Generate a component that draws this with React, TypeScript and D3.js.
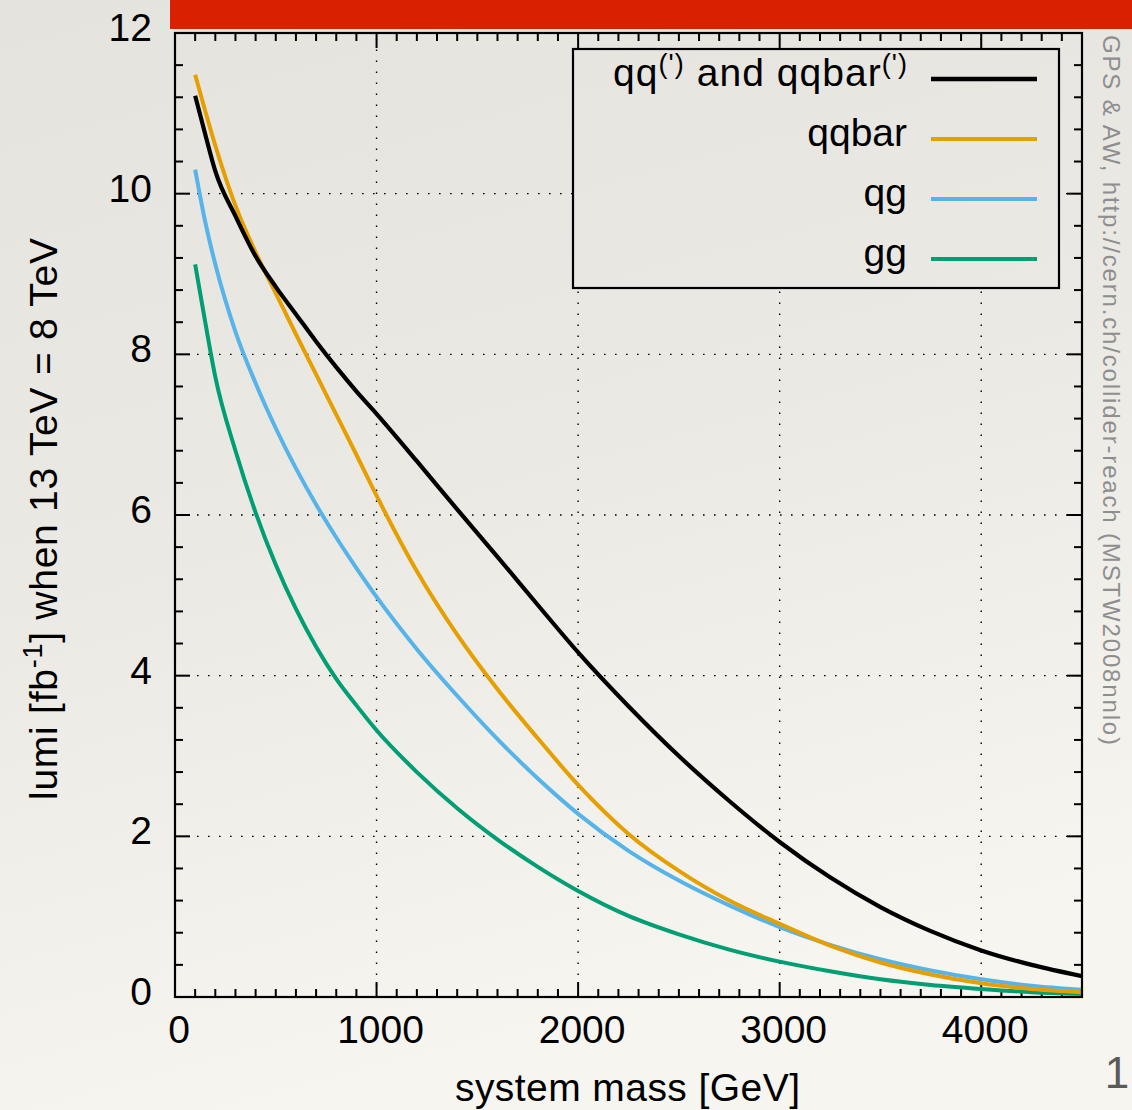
import React from "react";
import * as d3 from "d3";

// ---- data ----
const masses = [100, 150, 200, 300, 400, 500, 600, 700, 800, 900, 1000, 1200, 1400, 1600, 1800, 2000, 2250, 2500, 2750, 3000, 3250, 3500, 3750, 4000, 4250, 4500];
const qqAllValues = [11.22, 10.74, 10.28, 9.72, 9.22, 8.84, 8.5, 8.16, 7.84, 7.54, 7.26, 6.67, 6.07, 5.48, 4.88, 4.29, 3.62, 3.0, 2.44, 1.93, 1.49, 1.12, 0.82, 0.58, 0.4, 0.26];
const qqbarValues = [11.48, 11.03, 10.6, 9.85, 9.27, 8.76, 8.25, 7.75, 7.25, 6.75, 6.24, 5.3, 4.51, 3.83, 3.22, 2.64, 2.03, 1.57, 1.2, 0.91, 0.64, 0.43, 0.28, 0.17, 0.1, 0.06];
const qgValues = [10.3, 9.65, 9.12, 8.28, 7.64, 7.08, 6.58, 6.13, 5.72, 5.34, 4.98, 4.33, 3.75, 3.21, 2.72, 2.28, 1.82, 1.45, 1.14, 0.87, 0.65, 0.47, 0.33, 0.22, 0.14, 0.09];
const ggValues = [9.12, 8.4, 7.72, 6.8, 6.03, 5.38, 4.83, 4.36, 3.96, 3.63, 3.32, 2.8, 2.35, 1.96, 1.62, 1.32, 1.01, 0.78, 0.59, 0.44, 0.32, 0.22, 0.15, 0.1, 0.06, 0.04];

const seriesNames = ["qq(') and qqbar(')", "qqbar", "qg", "gg"];
const seriesColors = ["#000000", "#e69f00", "#56b4e9", "#009e73"];

const xTickValues = [0, 1000, 2000, 3000, 4000];
const yTickValues = [0, 2, 4, 6, 8, 10, 12];

const xTitle = "system mass [GeV]";
const sideNote = "GPS & AW, http://cern.ch/collider-reach (MSTW2008nnlo)";
const pageNumber = "1";

// ---- layout ----
const W = 1132;
const H = 1110;
const FONT = "'Liberation Sans', Arial, Helvetica, sans-serif";
const FS = 39;

export default function App() {
  const x = d3.scaleLinear().domain([0, 4500]).range([175, 1082]);
  const y = d3.scaleLinear().domain([0, 12]).range([997, 33]);
  const [x0, x1] = x.range();
  const [y0, y1] = y.range();

  const series = [qqAllValues, qqbarValues, qgValues, ggValues];
  const line = d3
    .line<[number, number]>()
    .x((d) => x(d[0]))
    .y((d) => y(d[1]))
    .curve(d3.curveMonotoneX);

  const xMinor = d3.range(0, 4501, 100).filter((v) => v % 1000 !== 0);
  const yMinor = d3
    .range(0, 31)
    .filter((k) => k % 5 !== 0)
    .map((k) => k * 0.4);

  const major = 15;
  const minor = 8;

  const legendBox = { x: 573, y: 49, w: 486, h: 239 };
  const legendRows = [79, 139, 199, 259];

  return (
    <svg
      width={W}
      height={H}
      viewBox={`0 0 ${W} ${H}`}
      style={{ position: "absolute", left: 0, top: 0, display: "block" }}
      fontFamily={FONT}
    >
      <defs>
        <linearGradient id="paper" gradientUnits="userSpaceOnUse" x1="0" y1="0" x2="300" y2="1110">
          <stop offset="0" stopColor="#e5e3de" />
          <stop offset="0.5" stopColor="#ebe9e4" />
          <stop offset="1" stopColor="#f7f5f0" />
        </linearGradient>
        <clipPath id="plotclip">
          <rect x={x0} y={y1} width={x1 - x0} height={y0 - y1} />
        </clipPath>
      </defs>
      <rect x={0} y={0} width={W} height={H} fill="url(#paper)" />
      <rect x={170} y={0} width={W - 170} height={29} fill="#d82100" />

      {/* grid */}
      <g stroke="#000" strokeWidth={1.4} strokeDasharray="1.6 9.4" fill="none">
        {xTickValues
          .filter((v) => v > 0)
          .map((v) => (
            <line key={"gx" + v} x1={x(v)} x2={x(v)} y1={y0} y2={y1} />
          ))}
        {yTickValues
          .filter((v) => v > 0 && v < 12)
          .map((v) => (
            <line key={"gy" + v} x1={x0} x2={x1} y1={y(v)} y2={y(v)} />
          ))}
      </g>

      {/* ticks, all four sides */}
      <g stroke="#000" strokeWidth={2}>
        {xTickValues.map((v) => (
          <g key={"xt" + v}>
            <line x1={x(v)} x2={x(v)} y1={y0} y2={y0 - major} />
            <line x1={x(v)} x2={x(v)} y1={y1} y2={y1 + major} />
          </g>
        ))}
        {xMinor.map((v) => (
          <g key={"xm" + v}>
            <line x1={x(v)} x2={x(v)} y1={y0} y2={y0 - minor} />
            <line x1={x(v)} x2={x(v)} y1={y1} y2={y1 + minor} />
          </g>
        ))}
        {yTickValues.map((v) => (
          <g key={"yt" + v}>
            <line x1={x0} x2={x0 + major} y1={y(v)} y2={y(v)} />
            <line x1={x1} x2={x1 - major} y1={y(v)} y2={y(v)} />
          </g>
        ))}
        {yMinor.map((v, i) => (
          <g key={"ym" + i}>
            <line x1={x0} x2={x0 + minor} y1={y(v)} y2={y(v)} />
            <line x1={x1} x2={x1 - minor} y1={y(v)} y2={y(v)} />
          </g>
        ))}
      </g>

      {/* curves */}
      <g clipPath="url(#plotclip)" fill="none" strokeLinejoin="round" strokeLinecap="butt">
        {series
          .map((vals, i) => ({ vals, i }))
          .reverse()
          .map(({ vals, i }) => {
            const pts = masses.map((m, k) => [m, vals[k]] as [number, number]);
            return (
              <path key={"s" + i} d={line(pts) || ""} stroke={seriesColors[i]} strokeWidth={i === 0 ? 4.2 : 4} />
            );
          })}
      </g>

      {/* frame */}
      <rect x={x0} y={y1} width={x1 - x0} height={y0 - y1} fill="none" stroke="#000" strokeWidth={2.2} />

      {/* tick labels */}
      <g fontSize={FS} fill="#000">
        {xTickValues.map((v) => (
          <text key={"xl" + v} x={x(v) + 4} y={1043} textAnchor="middle">
            {v}
          </text>
        ))}
        {yTickValues.map((v) => (
          <text key={"yl" + v} x={152} y={y(v) + 8} textAnchor="end">
            {v}
          </text>
        ))}
      </g>

      {/* axis titles */}
      <text
        x={455}
        y={1101}
        textAnchor="start"
        fontSize={FS}
        fill="#000"
        textLength={345}
        lengthAdjust="spacing"
      >
        {xTitle}
      </text>
      <text
        transform={`translate(57, 800) rotate(-90)`}
        textAnchor="start"
        fontSize={FS}
        fill="#000"
        textLength={562}
        lengthAdjust="spacing"
      >
        lumi [fb
        <tspan fontSize={27} dy={-15}>
          -1
        </tspan>
        <tspan dy={15}>] when 13 TeV = 8 TeV</tspan>
      </text>

      {/* legend */}
      <rect
        x={legendBox.x}
        y={legendBox.y}
        width={legendBox.w}
        height={legendBox.h}
        fill="url(#paper)"
        stroke="#000"
        strokeWidth={2.2}
      />
      {seriesNames.map((name, i) => (
        <g key={"lg" + i}>
          <line x1={931} x2={1037} y1={legendRows[i]} y2={legendRows[i]} stroke={seriesColors[i]} strokeWidth={i === 0 ? 4.5 : 4} />
          {i === 0 ? (
            <text
              x={613}
              y={legendRows[i] + 7}
              textAnchor="start"
              fontSize={FS}
              fill="#000"
              textLength={294}
              lengthAdjust="spacing"
            >
              qq
              <tspan fontSize={27} dy={-13}>
                (')
              </tspan>
              <tspan dy={13}> and qqbar</tspan>
              <tspan fontSize={27} dy={-13}>
                (')
              </tspan>
            </text>
          ) : (
            <text x={907} y={legendRows[i] + 7} textAnchor="end" fontSize={FS} fill="#000">
              {name}
            </text>
          )}
        </g>
      ))}

      {/* side note */}
      <text
        transform={`translate(1103, 35) rotate(90)`}
        textAnchor="start"
        fontSize={24}
        fill="#8e8e8e"
        textLength={710}
        lengthAdjust="spacing"
      >
        {sideNote}
      </text>

      {/* page number */}
      <text x={1117} y={1088} textAnchor="middle" fontSize={44} fill="#5a5a5a" fontWeight={300}>
        {pageNumber}
      </text>
    </svg>
  );
}
